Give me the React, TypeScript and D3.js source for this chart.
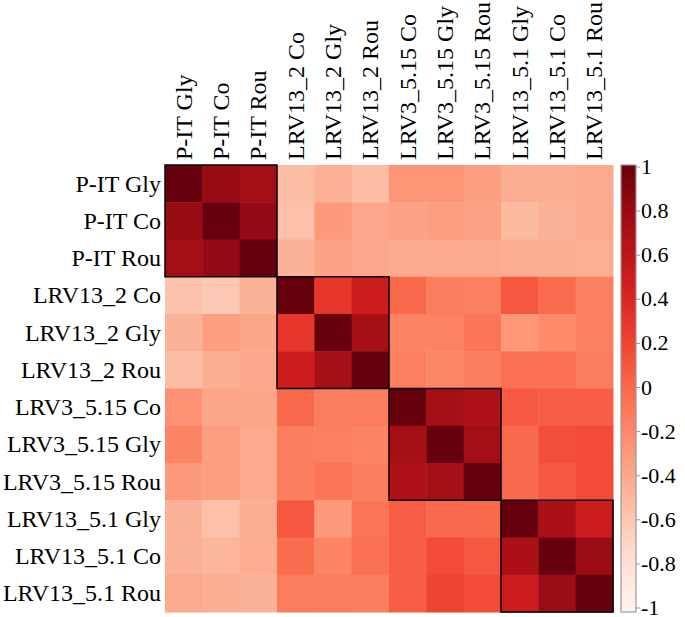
import React from "react";
import * as d3 from "d3";

const labels = [
  "P-IT Gly", "P-IT Co", "P-IT Rou",
  "LRV13_2 Co", "LRV13_2 Gly", "LRV13_2 Rou",
  "LRV3_5.15 Co", "LRV3_5.15 Gly", "LRV3_5.15 Rou",
  "LRV13_5.1 Gly", "LRV13_5.1 Co", "LRV13_5.1 Rou",
];

const rowPITGly = [1, 0.8, 0.74, -0.52, -0.44, -0.52, -0.26, -0.26, -0.32, -0.42, -0.42, -0.4];
const rowPITCo = [0.8, 1, 0.82, -0.54, -0.3, -0.38, -0.35, -0.33, -0.35, -0.5, -0.45, -0.4];
const rowPITRou = [0.74, 0.82, 1, -0.45, -0.35, -0.38, -0.4, -0.4, -0.4, -0.42, -0.42, -0.43];
const row132Co = [-0.55, -0.6, -0.45, 1, 0.3, 0.5, 0.0, -0.13, -0.14, 0.1, -0.02, -0.14];
const row132Gly = [-0.45, -0.33, -0.37, 0.3, 1, 0.72, -0.16, -0.16, -0.08, -0.28, -0.2, -0.14];
const row132Rou = [-0.52, -0.42, -0.38, 0.5, 0.72, 1, -0.14, -0.18, -0.13, -0.05, -0.05, -0.12];
const row3515Co = [-0.25, -0.37, -0.37, 0.0, -0.13, -0.12, 1, 0.72, 0.68, 0.08, 0.06, 0.06];
const row3515Gly = [-0.17, -0.32, -0.4, -0.13, -0.14, -0.16, 0.72, 1, 0.74, 0.0, 0.15, 0.17];
const row3515Rou = [-0.3, -0.33, -0.4, -0.13, -0.07, -0.13, 0.68, 0.72, 1, 0.0, 0.1, 0.17];
const row1351Gly = [-0.45, -0.54, -0.42, 0.1, -0.29, -0.07, 0.06, 0.0, 0.0, 1, 0.7, 0.5];
const row1351Co = [-0.45, -0.47, -0.41, -0.03, -0.17, -0.05, 0.06, 0.17, 0.1, 0.7, 1, 0.78];
const row1351Rou = [-0.4, -0.42, -0.45, -0.12, -0.12, -0.13, 0.06, 0.2, 0.17, 0.5, 0.78, 1];

const matrix = [
  rowPITGly, rowPITCo, rowPITRou,
  row132Co, row132Gly, row132Rou,
  row3515Co, row3515Gly, row3515Rou,
  row1351Gly, row1351Co, row1351Rou,
];

const groups = [[0, 3], [3, 6], [6, 9], [9, 12]];
const colorTicks = [1, 0.8, 0.6, 0.4, 0.2, 0, -0.2, -0.4, -0.6, -0.8, -1];

const W = 685;
const H = 617;
const gx0 = 165, gx1 = 613, gy0 = 165, gy1 = 612;
const FONT = "Liberation Serif";

export default function App() {
  const x = d3.scaleBand<number>().domain(d3.range(12)).range([gx0, gx1]);
  const y = d3.scaleBand<number>().domain(d3.range(12)).range([gy0, gy1]);
  const color = d3.scaleSequential(d3.interpolateReds).domain([-1, 1]);
  const cb = d3.scaleLinear().domain([-1, 1]).range([608, 167]);
  const cbX0 = 621, cbX1 = 636;
  const stops = d3.range(0, 1.0001, 0.05);

  return (
    <svg width={W} height={H} fontFamily={FONT} style={{ position: "absolute", left: 0, top: 0 }}>
      <defs>
        <linearGradient id="cbgrad" x1="0" y1="1" x2="0" y2="0">
          {stops.map((t, i) => (
            <stop key={i} offset={t} stopColor={d3.interpolateReds(t)} />
          ))}
        </linearGradient>
      </defs>
      <g>
        {matrix.map((row, i) =>
          row.map((v, j) => (
            <rect
              key={`${i}-${j}`}
              x={x(j)}
              y={y(i)}
              width={x.bandwidth() + 0.5}
              height={y.bandwidth() + 0.5}
              fill={color(v)}
            />
          ))
        )}
      </g>
      <g>
        {groups.map(([a, b], k) => (
          <rect
            key={k}
            x={x(a)}
            y={y(a)}
            width={(x(b - 1) as number) + x.bandwidth() - (x(a) as number)}
            height={(y(b - 1) as number) + y.bandwidth() - (y(a) as number)}
            fill="none"
            stroke="#000"
            strokeWidth={1.5}
          />
        ))}
      </g>
      {labels.map((l, i) => (
        <text
          key={`r${i}`}
          x={161}
          y={(y(i) as number) + y.bandwidth() / 2 + 8}
          textAnchor="end"
          fontFamily={FONT}
          fontSize={24}
          fill="#000"
        >
          {l}
        </text>
      ))}
      {labels.map((l, j) => {
        const cx = (x(j) as number) + x.bandwidth() / 2 + 8;
        return (
          <text
            key={`c${j}`}
            transform={`translate(${cx},160) rotate(-90)`}
            textAnchor="start"
            fontFamily={FONT}
            fontSize={24}
            fill="#000"
          >
            {l}
          </text>
        );
      })}
      <rect x={cbX0} y={gy0} width={cbX1 - cbX0} height={gy1 - gy0} fill="url(#cbgrad)" stroke="#999" strokeWidth={1.2} />
      {colorTicks.map((t) => (
        <g key={t}>
          <line x1={cbX1} x2={cbX1 + 4} y1={cb(t)} y2={cb(t)} stroke="#999" strokeWidth={1} />
          <text x={cbX1 + 5} y={cb(t) + 7} fontFamily={FONT} fontSize={22} fill="#000">
            {String(t)}
          </text>
        </g>
      ))}
    </svg>
  );
}
